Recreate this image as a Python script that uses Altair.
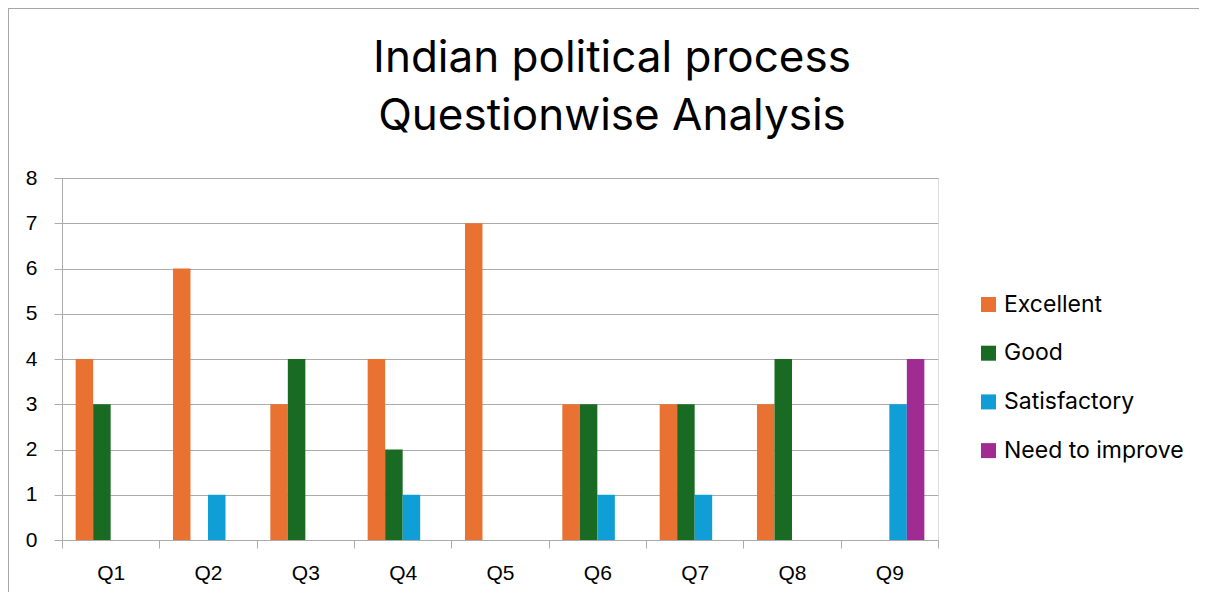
import altair as alt
import pandas as pd

questions = ["Q1", "Q2", "Q3", "Q4", "Q5", "Q6", "Q7", "Q8", "Q9"]
categories = ["Excellent", "Good", "Satisfactory", "Need to improve"]
excellent = [4, 6, 3, 4, 7, 3, 3, 3, 0]
good = [3, 0, 4, 2, 0, 3, 3, 4, 0]
satisfactory = [0, 1, 0, 1, 0, 1, 1, 0, 3]
need_to_improve = [0, 0, 0, 0, 0, 0, 0, 0, 4]
y_ticks = [0, 1, 2, 3, 4, 5, 6, 7, 8]
colors = ["#E97132", "#196B24", "#0F9ED5", "#A02B93"]
title_lines = ["Indian political process", "Questionwise Analysis"]

rows = []
for cat, vals in zip(categories, [excellent, good, satisfactory, need_to_improve]):
    for q, v in zip(questions, vals):
        rows.append({"Question": q, "Rating": cat, "Count": v})
df = pd.DataFrame(rows)

GRID = "#ABABAB"
AXIS_FONT = "Liberation Sans"
TITLE_FONT = "Inter"

bars = alt.Chart(df).mark_bar(strokeWidth=0).encode(
    x=alt.X(
        "Question:N",
        sort=questions,
        scale=alt.Scale(paddingInner=0, paddingOuter=0),
        axis=alt.Axis(
            title=None, labelAngle=0, tickBand="extent", ticks=True, tickSize=8,
            tickColor=GRID, domainColor=GRID, labelFont=AXIS_FONT, labelFontSize=21,
            labelColor="#000000", labelPadding=14, grid=False,
        ),
    ),
    xOffset=alt.XOffset("Rating:N", sort=categories,
                        scale=alt.Scale(paddingInner=0, paddingOuter=0.78)),
    y=alt.Y(
        "Count:Q",
        scale=alt.Scale(domain=[0, 8], nice=False),
        axis=alt.Axis(
            title=None, values=y_ticks, tickSize=8, tickColor=GRID, domainColor=GRID,
            grid=True, gridColor=GRID, gridOpacity=1, labelFont=AXIS_FONT,
            labelFontSize=21, labelColor="#000000", labelPadding=17,
        ),
    ),
    color=alt.Color(
        "Rating:N",
        sort=categories,
        scale=alt.Scale(domain=categories, range=colors),
        legend=alt.Legend(
            title=None, orient="none", legendX=915, legendY=115,
            symbolType="square", symbolSize=225, symbolStrokeWidth=0,
            symbolOpacity=1, labelFont=TITLE_FONT, labelFontSize=23,
            labelColor="#000000", rowPadding=24.7, labelOffset=4, labelLimit=400,
        ),
    ),
)

title = alt.Chart(pd.DataFrame({"t": ["\n".join(title_lines)]})).mark_text(
    font=TITLE_FONT, fontSize=44, lineHeight=58, align="center",
    baseline="alphabetic", lineBreak="\n", color="#000000",
).encode(text="t:N", x=alt.value(550), y=alt.value(-106))

border = alt.Chart(pd.DataFrame({"k": [0]})).mark_rule(color="#A6A6A6", strokeWidth=1).encode(
    x=alt.value(-53.5), y=alt.value(-170), y2=alt.value(414)
)
border_top = alt.Chart(pd.DataFrame({"k": [0]})).mark_rule(color="#A6A6A6", strokeWidth=1).encode(
    x=alt.value(-54), x2=alt.value(1137), y=alt.value(-169.5)
)

chart = alt.layer(border, border_top, title, bars).properties(
    width=876,
    height=362,
    autosize=alt.AutoSizeParams(type="none"),
    padding={"left": 54, "top": 170, "right": 261, "bottom": 52},
).configure_view(stroke=None).configure(background="white")

chart.save("out.html", embed_options={"renderer": "svg", "actions": False})
